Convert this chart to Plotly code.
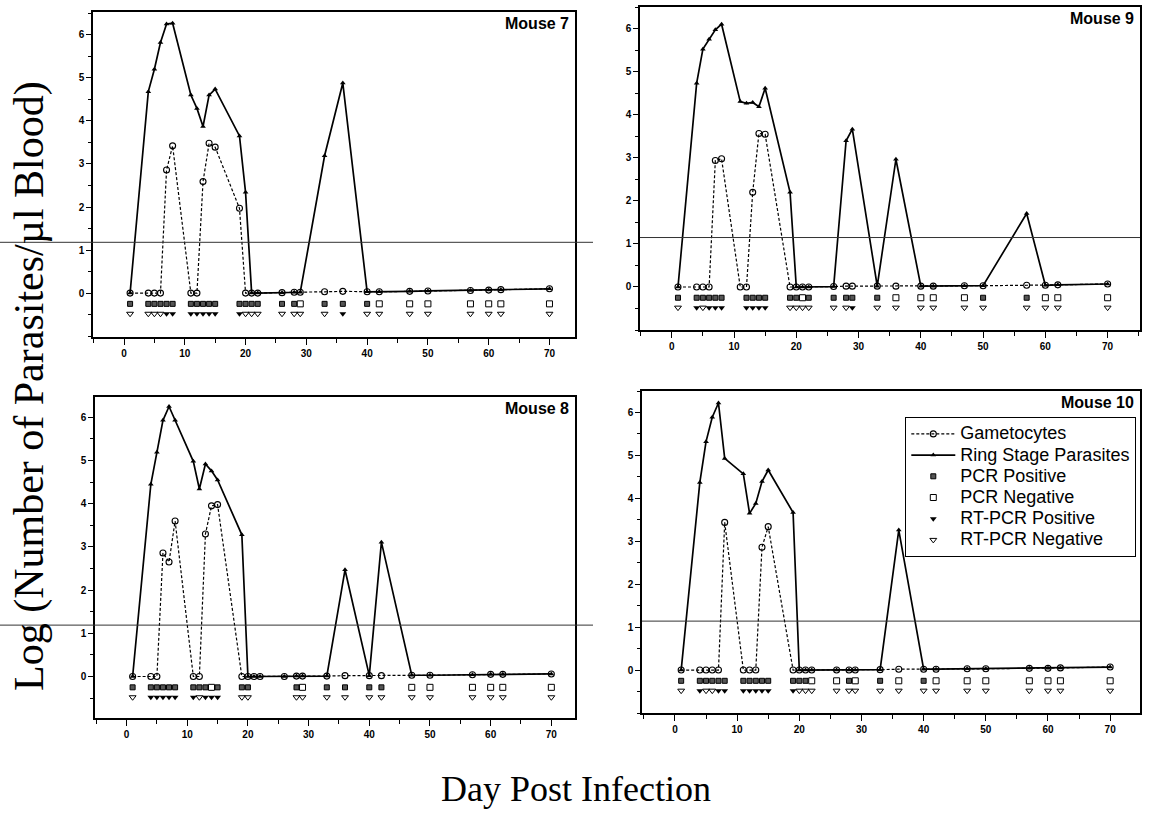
import plotly.graph_objects as go

# ---------------- data ----------------
mice = ["Mouse 7", "Mouse 9", "Mouse 8", "Mouse 10"]

days = [1, 4, 5, 6, 7, 8, 11, 12, 13, 14, 15, 19, 20, 21, 22, 26, 28, 29, 33, 36, 40, 42, 47, 50, 57, 60, 62, 70]

ring_m7 = [0, 4.68, 5.2, 5.82, 6.25, 6.27, 4.6, 4.29, 3.87, 4.6, 4.74, 3.65, 2.34, 0, 0, 0.01, 0.02, 0.02, 3.19, 4.88, 0.03, 0.03, 0.04, 0.05, 0.06, 0.07, 0.08, 0.1]
gam_m7 = [0, 0, 0, 0, 2.86, 3.42, 0, 0, 2.59, 3.48, 3.39, 1.97, 0, 0, 0, 0.01, 0.02, 0.02, 0.03, 0.04, 0.03, 0.03, 0.04, 0.05, 0.06, 0.07, 0.08, 0.1]
test_days_m7 = [1, 4, 5, 6, 7, 8, 11, 12, 13, 14, 15, 19, 20, 21, 22, 26, 28, 29, 33, 36, 40, 42, 47, 50, 57, 60, 62, 70]
pcr_m7 = [1, 1, 1, 1, 1, 1, 1, 1, 1, 1, 1, 1, 1, 1, 1, 1, 1, 0, 1, 1, 1, 0, 0, 0, 0, 0, 0, 0]
rt_m7 = [0, 0, 0, 0, 1, 1, 1, 1, 1, 1, 1, 1, 0, 0, 0, 0, 0, 0, 0, 1, 0, 0, 0, 0, 0, 0, 0, 0]

ring_m9 = [0, 4.74, 5.53, 5.76, 5.98, 6.11, 4.31, 4.27, 4.29, 4.19, 4.62, 2.2, 0, 0, 0, 0.01, 3.40, 3.67, 0.02, 2.97, 0.02, 0.02, 0.03, 0.03, 1.71, 0.04, 0.05, 0.07]
gam_m9 = [0, 0, 0, 0, 2.94, 2.98, 0, 0, 2.2, 3.57, 3.55, 0, 0, 0, 0, 0.01, 0.02, 0.02, 0.02, 0.02, 0.02, 0.02, 0.03, 0.03, 0.04, 0.04, 0.05, 0.07]
test_days_m9 = [1, 4, 5, 6, 7, 8, 12, 13, 14, 15, 19, 20, 21, 22, 26, 28, 29, 33, 36, 40, 42, 47, 50, 57, 60, 62, 70]
pcr_m9 = [1, 1, 1, 1, 1, 1, 1, 1, 1, 1, 1, 1, 0, 1, 1, 1, 1, 1, 0, 0, 0, 0, 1, 1, 0, 0, 0]
rt_m9 = [0, 1, 0, 1, 1, 1, 1, 1, 1, 1, 0, 0, 0, 0, 0, 0, 1, 0, 0, 0, 0, 0, 0, 0, 0, 0, 0]

ring_m8 = [0, 4.45, 5.19, 5.93, 6.25, 5.93, 4.98, 4.34, 4.92, 4.76, 4.55, 3.28, 0, 0, 0, 0, 0.01, 0.01, 0.01, 2.47, 0.02, 3.11, 0.03, 0.03, 0.04, 0.05, 0.05, 0.06]
gam_m8 = [0, 0, 0, 2.86, 2.65, 3.6, 0, 0, 3.30, 3.95, 3.98, 0, 0, 0, 0, 0, 0.01, 0.01, 0.01, 0.02, 0.02, 0.02, 0.03, 0.03, 0.04, 0.05, 0.05, 0.06]
test_days_m8 = [1, 4, 5, 6, 7, 8, 11, 12, 13, 14, 15, 19, 20, 28, 29, 33, 36, 40, 42, 47, 50, 57, 60, 62, 70]
pcr_m8 = [1, 1, 1, 1, 1, 1, 1, 1, 1, 0, 1, 1, 1, 1, 0, 1, 1, 1, 1, 0, 0, 0, 0, 0, 0]
rt_m8 = [0, 1, 1, 1, 1, 1, 1, 0, 1, 1, 1, 0, 0, 0, 0, 0, 0, 0, 0, 0, 0, 0, 0, 0, 0]

ring_m10 = [0, 4.37, 5.32, 5.89, 6.22, 4.93, 4.57, 3.65, 3.88, 4.39, 4.66, 3.67, 0, 0, 0, 0, 0, 0, 0.01, 3.26, 0.02, 0.02, 0.03, 0.03, 0.04, 0.04, 0.05, 0.07]
gam_m10 = [0, 0, 0, 0, 0, 3.44, 0, 0, 0, 2.86, 3.34, 0, 0, 0, 0, 0, 0, 0, 0.01, 0.02, 0.02, 0.02, 0.03, 0.03, 0.04, 0.04, 0.05, 0.07]
test_days_m10 = [1, 4, 5, 6, 7, 8, 11, 12, 13, 14, 15, 19, 20, 21, 22, 26, 28, 29, 33, 36, 40, 42, 47, 50, 57, 60, 62, 70]
pcr_m10 = [1, 1, 1, 1, 1, 1, 1, 1, 1, 1, 1, 1, 1, 1, 0, 0, 1, 0, 1, 0, 1, 0, 0, 0, 0, 0, 0, 0]
rt_m10 = [0, 1, 0, 0, 1, 1, 1, 1, 1, 1, 1, 1, 0, 0, 0, 0, 0, 0, 0, 0, 0, 0, 0, 0, 0, 0, 0, 0]

threshold = [1.18, 1.15, 1.19, 1.14]

x_ticks = [0, 10, 20, 30, 40, 50, 60, 70]
y_ticks = [0, 1, 2, 3, 4, 5, 6]

legend_names = ["Gametocytes", "Ring Stage Parasites", "PCR Positive", "PCR Negative",
                "RT-PCR Positive", "RT-PCR Negative"]

ring_all = [ring_m7, ring_m9, ring_m8, ring_m10]
gam_all = [gam_m7, gam_m9, gam_m8, gam_m10]
tdays_all = [test_days_m7, test_days_m9, test_days_m8, test_days_m10]
pcr_all = [pcr_m7, pcr_m9, pcr_m8, pcr_m10]
rt_all = [rt_m7, rt_m9, rt_m8, rt_m10]

# ---------------- layout geometry ----------------
W, H = 1151, 817
# panel boxes in pixels: (left, right, top, bottom)
boxes = [(93, 575, 12, 337), (640, 1140, 7, 330), (95, 575, 397, 718), (642, 1140, 391, 713)]
xranges = [[-5.1, 74.2], [-5.1, 75.2], [-5.2, 73.9], [-5.3, 74.8]]
yranges = [[-1.02, 6.53], [-1.0, 6.51], [-0.96, 6.47], [-1.0, 6.5]]
PCR_ROW = -0.25
RT_ROW = -0.48


def lname(s):
    return '<span style="font-size:18px">' + s + '</span>'


fig = go.Figure()
tick_font = dict(family="Liberation Sans, Arial, sans-serif", size=10, color="black", weight="bold")

for i in range(4):
    sfx = "" if i == 0 else str(i + 1)
    xa, ya = "x" + sfx, "y" + sfx
    show = (i == 3)
    tdays = tdays_all[i]
    pos_p = [d for d, f in zip(tdays, pcr_all[i]) if f == 1]
    neg_p = [d for d, f in zip(tdays, pcr_all[i]) if f == 0]
    pos_r = [d for d, f in zip(tdays, rt_all[i]) if f == 1]
    neg_r = [d for d, f in zip(tdays, rt_all[i]) if f == 0]

    fig.add_trace(go.Scatter(
        x=days, y=gam_all[i], mode="lines+markers", name=lname(legend_names[0]),
        line=dict(color="black", width=1.2, dash="3px,2px"),
        marker=dict(symbol="circle-open", size=6, color="black", line=dict(width=1.1)),
        xaxis=xa, yaxis=ya, showlegend=show, legendrank=1))
    fig.add_trace(go.Scatter(
        x=days, y=ring_all[i], mode="lines+markers", name=lname(legend_names[1]),
        line=dict(color="black", width=1.7),
        marker=dict(symbol="triangle-up", size=5, color="black"),
        xaxis=xa, yaxis=ya, showlegend=show, legendrank=2))
    fig.add_trace(go.Scatter(
        x=pos_p, y=[PCR_ROW] * len(pos_p), mode="markers", name=lname(legend_names[2]),
        marker=dict(symbol="square", size=5, color="#555555", line=dict(color="black", width=1)),
        xaxis=xa, yaxis=ya, showlegend=show, legendrank=3))
    fig.add_trace(go.Scatter(
        x=neg_p, y=[PCR_ROW] * len(neg_p), mode="markers", name=lname(legend_names[3]),
        marker=dict(symbol="square-open", size=6, color="black", line=dict(width=1)),
        xaxis=xa, yaxis=ya, showlegend=show, legendrank=4))
    fig.add_trace(go.Scatter(
        x=pos_r, y=[RT_ROW] * len(pos_r), mode="markers", name=lname(legend_names[4]),
        marker=dict(symbol="triangle-down", size=6, color="black"),
        xaxis=xa, yaxis=ya, showlegend=show, legendrank=5))
    fig.add_trace(go.Scatter(
        x=neg_r, y=[RT_ROW] * len(neg_r), mode="markers", name=lname(legend_names[5]),
        marker=dict(symbol="triangle-down-open", size=6, color="black", line=dict(width=1)),
        xaxis=xa, yaxis=ya, showlegend=show, legendrank=6))

    l, r, t, b = boxes[i]
    xdom = [l / W, r / W]
    ydom = [1 - b / H, 1 - t / H]
    xaxis = dict(domain=xdom, range=xranges[i], anchor=ya, showline=True, linecolor="black",
                 linewidth=1.6, mirror=True, showgrid=False, zeroline=False,
                 tickvals=x_ticks, ticks="outside", ticklen=6, tickwidth=1.2, tickcolor="black",
                 minor=dict(dtick=5, ticks="outside", ticklen=4, tickcolor="black", tickwidth=1),
                 tickfont=tick_font, fixedrange=True)
    yaxis = dict(domain=ydom, range=yranges[i], anchor=xa, showline=True, linecolor="black",
                 linewidth=1.6, mirror=True, showgrid=False, zeroline=False,
                 tickvals=y_ticks, ticks="outside", ticklen=5, tickwidth=1.2, tickcolor="black",
                 minor=dict(dtick=0.5, ticks="outside", ticklen=3, tickcolor="black", tickwidth=1),
                 tickfont=tick_font, fixedrange=True)
    fig.layout["xaxis" + sfx] = xaxis
    fig.layout["yaxis" + sfx] = yaxis

    # threshold line
    x0 = (0 - l) / (r - l) if i in (0, 2) else 0
    x1 = (593 - l) / (r - l) if i in (0, 2) else 1
    fig.add_shape(type="line", xref=xa + " domain", yref=ya, x0=x0, x1=x1,
                  y0=threshold[i], y1=threshold[i], line=dict(color="#333333", width=1))

    fig.add_annotation(text=mice[i], xref=xa + " domain", yref=ya + " domain", x=0.992, y=0.997,
                       xanchor="right", yanchor="top", showarrow=False,
                       font=dict(family="Liberation Sans, Arial, sans-serif", size=16, color="black",
                                 weight="bold"))

fig.add_annotation(text="Log (Number of Parasites/µl Blood)", xref="paper", yref="paper",
                   x=29 / W, y=1 - 386 / H, textangle=-90, showarrow=False,
                   xanchor="center", yanchor="middle",
                   font=dict(family="Liberation Serif, Times New Roman, serif", size=42, color="black"))
fig.add_annotation(text="Day Post Infection", xref="paper", yref="paper",
                   x=576 / W, y=1 - 789 / H, showarrow=False, xanchor="center", yanchor="middle",
                   font=dict(family="Liberation Serif, Times New Roman, serif", size=36, color="black"))

fig.update_layout(
    width=W, height=H, margin=dict(l=0, r=0, t=0, b=0),
    paper_bgcolor="white", plot_bgcolor="white",
    showlegend=True,
    legend=dict(x=905 / W, y=1 - 417 / H, xanchor="left", yanchor="top",
                bgcolor="white", bordercolor="black", borderwidth=1.3,
                font=dict(family="Liberation Sans, Arial, sans-serif", size=14, color="black"),
                traceorder="normal", itemwidth=44, tracegroupgap=0),
)

fig.write_html("out.html")
